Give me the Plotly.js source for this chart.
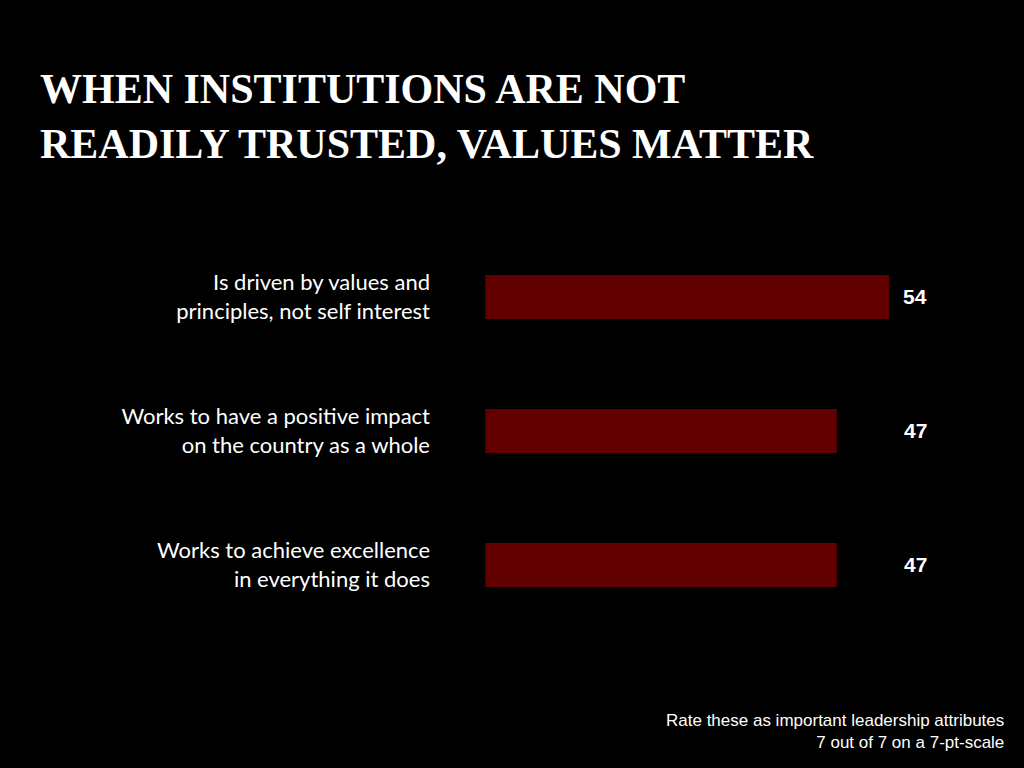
<!DOCTYPE html>
<html>
<head>
<meta charset="utf-8">
<script src="https://cdn.plot.ly/plotly-3.0.1.min.js"></script>
<style>
  html, body { margin: 0; padding: 0; background: #000; }
  #chart { width: 1024px; height: 768px; }
</style>
</head>
<body>
<div id="chart"></div>
<script>
  // attribute labels, top to bottom
  var categories = [
    "Is driven by values and<br>principles, not self interest",
    "Works to have a positive impact<br>on the country as a whole",
    "Works to achieve excellence<br>in everything it does"
  ];
  // share rating the attribute 7 out of 7 (%)
  var values = [54, 47, 47];
  var valueLabels = ["54", "47", "47"];

  var titleText = "WHEN INSTITUTIONS ARE NOT<br>READILY TRUSTED, VALUES MATTER";
  var noteText = "Rate these as important leadership attributes<br>7 out of 7 on a 7-pt-scale";

  var data = [
    {
      type: "bar",
      orientation: "h",
      x: values,
      y: categories,
      width: 0.33,
      marker: { color: "#620000" },
      hoverinfo: "none"
    }
  ];

  var annotations = categories.map(function (c, i) {
    return {
      xref: "paper",
      yref: "y",
      x: 0.978,
      y: c,
      xanchor: "right",
      yanchor: "middle",
      yshift: 1,
      text: valueLabels[i],
      showarrow: false,
      font: { family: "Liberation Sans, Arial, sans-serif", size: 21, color: "#fff", weight: "bold" }
    };
  });
  annotations.push({
    xref: "paper",
    yref: "paper",
    x: 1.132,
    y: -0.303,
    xanchor: "right",
    yanchor: "bottom",
    align: "right",
    text: noteText,
    showarrow: false,
    font: { family: "Liberation Sans, Arial, sans-serif", size: 17, color: "#fff" }
  });

  var layout = {
    width: 1024,
    height: 768,
    paper_bgcolor: "#000",
    plot_bgcolor: "#000",
    showlegend: false,
    margin: { l: 439, r: 84, t: 230, b: 136, pad: 0 },
    title: {
      text: titleText,
      x: 40 / 1024,
      xanchor: "left",
      xref: "container",
      y: 1 - 103 / 768,
      yanchor: "top",
      yref: "container",
      font: { family: "Liberation Serif, Times New Roman, serif", size: 42, color: "#fff", weight: "bold" }
    },
    xaxis: {
      range: [-6.2, 60.8],
      visible: false,
      showgrid: false,
      zeroline: false,
      fixedrange: true
    },
    yaxis: {
      autorange: "reversed",
      showgrid: false,
      zeroline: false,
      showline: false,
      ticks: "",
      ticklabelstandoff: 8,
      tickfont: { family: "Lato, Open Sans, sans-serif", size: 22, color: "#fff" },
      fixedrange: true
    },
    annotations: annotations
  };

  Plotly.newPlot("chart", data, layout, { displayModeBar: false, staticPlot: true });
</script>
</body>
</html>
